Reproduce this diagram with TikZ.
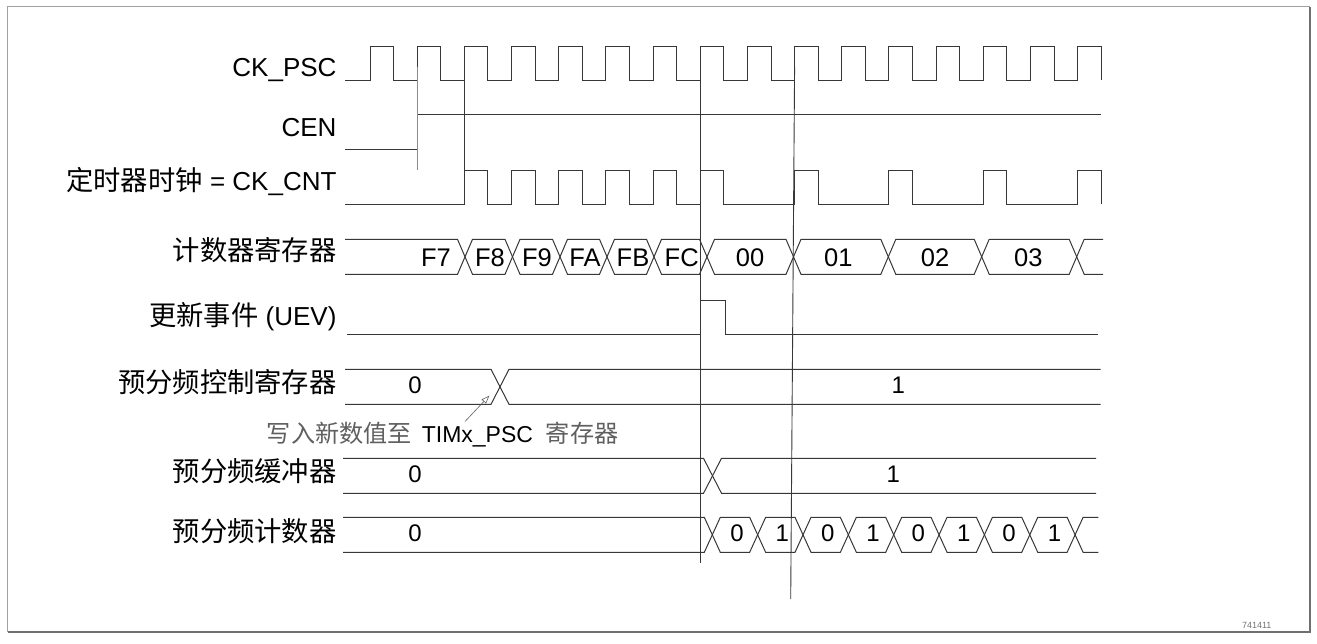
\documentclass[tikz,border=0pt]{standalone}
\usepackage{fontspec}
\setmainfont{Liberation Sans}
\newfontfamily\cjk[Scale=1.05]{Noto Sans CJK SC}
\usepackage{xcolor}
\definecolor{wavegray}{RGB}{55,55,55}
\definecolor{notegray}{RGB}{95,95,95}
\definecolor{framegray}{RGB}{160,160,160}
\usetikzlibrary{arrows.meta}

\begin{document}
\begin{tikzpicture}[x=1pt,y=-1pt,
  sig/.style={draw=wavegray,line width=1pt},
  cutline/.style={draw=wavegray,line width=0.9pt},
  sigtext/.style={anchor=base east,inner sep=0pt,font=\fontsize{26}{30}\selectfont},
  busval/.style={anchor=base,inner sep=0pt,font=\fontsize{25.5}{30}\selectfont},
  bitval/.style={anchor=base,inner sep=0pt,font=\fontsize{24}{28}\selectfont}]
\useasboundingbox (0,0) rectangle (1317,643);
\def\P{47.18}
\def\tz{370}
% frame
\draw[framegray,line width=0.8pt] (7,6) rectangle (1309,631);
\draw[framegray!70!black,line width=2pt] (1310,7) -- (1310,632) -- (8,632);
\node[inner sep=0pt,text=black!55,font=\fontsize{9}{10}\selectfont] (figid) at (1256.7,625) {741411};

% signal names
\node[sigtext] (nmpsc) at (336.7,76.7) {CK\_PSC};
\node[sigtext] (nmcen) at (336.7,136.7) {CEN};
\node[sigtext] (nmcnt) at (336.7,190) {{\cjk 定时器时钟} = CK\_CNT};
\node[sigtext] (nmreg) at (336.7,260.5) {\cjk 计数器寄存器};
\node[sigtext] (nmuev) at (336.7,325) {{\cjk 更新事件} (UEV)};
\node[sigtext] (nmctl) at (336.7,392) {\cjk 预分频控制寄存器};
\node[sigtext] (nmbuf) at (336.7,481.3) {\cjk 预分频缓冲器};
\node[sigtext] (nmpre) at (336.7,541.3) {\cjk 预分频计数器};

% CK_PSC
\draw[sig] (345,80) \foreach \k in {0,...,15}{
  -- ({\tz+\k*\P},80) -- ({\tz+\k*\P},46) -- ({\tz+(\k+0.5)*\P},46) -- ({\tz+(\k+0.5)*\P},80)};
% CEN
\draw[sig] (345,149) -- (417.2,149) -- (417.2,114.3) -- (1101,114.3);
% CK_CNT
\draw[sig] (345,204) \foreach \k in {2,3,4,5,6,7,9,11,13,15}{
  -- ({\tz+\k*\P},204) -- ({\tz+\k*\P},170.7) -- ({\tz+(\k+0.5)*\P},170.7) -- ({\tz+(\k+0.5)*\P},204)};

% counter register
\draw[sig] (345,239.3) -- (457.5,239.3) -- (465,256.8) -- (457.5,274.3) -- (345,274.3);
\foreach \a/\b in {465/512.5, 512.5/560, 560/607, 607/654, 654/707, 707/793.5, 793.5/888.3, 888.3/981.7, 981.7/1076.7}
  \draw[sig] (\a,256.8) -- ({\a+7.5},239.3) -- ({\b-7.5},239.3) -- (\b,256.8) -- ({\b-7.5},274.3) -- ({\a+7.5},274.3) -- cycle;
\draw[sig] (1103,239.3) -- (1084.2,239.3) -- (1076.7,256.8) -- (1084.2,274.3) -- (1103,274.3);
\foreach \v/\x [count=\i] in {F7/436, F8/490, F9/537, FA/585, FB/633, FC/681.7, 00/750, 01/838.3, 02/935, 03/1028.3}
  \node[busval] (reg\i) at (\x,266.7) {\v};

% UEV
\draw[sig] (347.3,334.3) -- (700.7,334.3) -- (700.7,300) -- (725,300) -- (725,334.3) -- (1098.3,334.3);

% prescaler control register
\draw[sig] (345,369.3) -- (491,369.3) -- (509,404.3) -- (1100.7,404.3);
\draw[sig] (345,404.3) -- (491,404.3) -- (509,369.3) -- (1100.7,369.3);
\node[bitval] (ctl0) at (415,393.3) {0};
\node[bitval] (ctl1) at (898.3,393.3) {1};

% prescaler buffer
\draw[sig] (343,458.3) -- (703.5,458.3) -- (721.5,493.3) -- (1096,493.3);
\draw[sig] (343,493.3) -- (703.5,493.3) -- (721.5,458.3) -- (1096,458.3);
\node[bitval] (buf0) at (415,482.5) {0};
\node[bitval] (buf1) at (893.3,482.5) {1};

% prescaler counter
\draw[sig] (343,517.3) -- (704.3,517.3) -- (712.3,534.8) -- (704.3,552.3) -- (343,552.3);
\node[bitval] (pre) at (415,541.7) {0};
\foreach \k in {0,...,7} {
  \pgfmathsetmacro\ca{712.3+\k*45.35}
  \pgfmathsetmacro\cb{\ca+45.35}
  \pgfmathtruncatemacro\bit{mod(\k,2)}
  \draw[sig] (\ca,534.8) -- ({\ca+8},517.3) -- ({\cb-8},517.3) -- (\cb,534.8) -- ({\cb-8},552.3) -- ({\ca+8},552.3) -- cycle;
  \node[bitval] (pre\k) at ({(\ca+\cb)/2+2},541.7) {\bit};
}
\draw[sig] (1098.3,517.3) -- (1083.1,517.3) -- (1075.1,534.8) -- (1083.1,552.3) -- (1098.3,552.3);

% edge markers
\draw[cutline,draw=black!45] (417.2,66.7) -- (417.2,170);
\draw[cutline] (464.5,66.7) -- (464.5,204);
\draw[cutline] (700.3,66.7) -- (700.3,563);
\draw[cutline] (794.6,66.7) -- (790.7,599);

% write note
\node[anchor=base west,inner sep=0pt,font=\fontsize{23}{28}\selectfont] (wrnote) at (266.7,442)
  {{\cjk\color{notegray}写入新数值至}\hspace{10pt}TIMx\_PSC\hspace{13pt}{\cjk\color{notegray}寄存器}};
\coordinate (wrtail) at (465,421.5);
\coordinate (wrtip) at (489.3,395.7);
\draw[notegray,line width=0.6pt,-{Triangle[open,length=8pt,width=6pt]}] (wrtail) -- (wrtip);
\end{tikzpicture}
\end{document}
